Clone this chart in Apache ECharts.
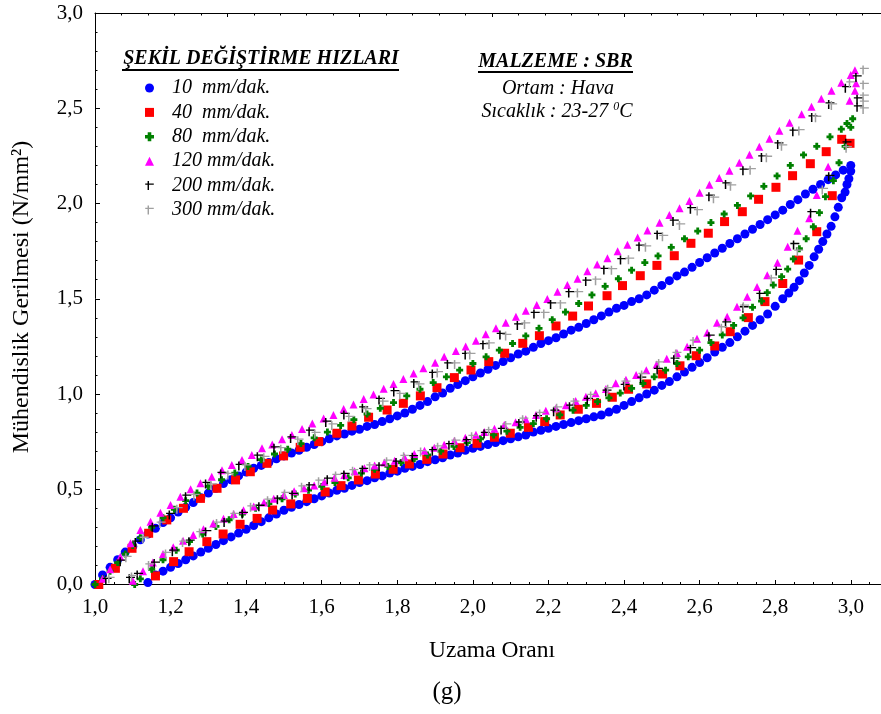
<!DOCTYPE html>
<html>
<head>
<meta charset="utf-8">
<script src="https://cdn.jsdelivr.net/npm/echarts@6/dist/echarts.min.js"></script>
<style>
html, body { margin: 0; padding: 0; background: #ffffff; }
#chart { width: 881px; height: 714px; }
</style>
</head>
<body>
<div id="chart"></div>
<script>
// Deformation-rate names (legend)
const rateNames = ['10  mm/dak.', '40  mm/dak.', '80  mm/dak.', '120 mm/dak.', '200 mm/dak.', '300 mm/dak.'];

// 10 mm/dak. : loading and unloading branches [stretch ratio, stress]
const r10Load = [
  [1.00,0.00],[1.02,0.05],[1.04,0.09],[1.06,0.13],[1.08,0.17],[1.10,0.20],[1.12,0.235],[1.14,0.265],
  [1.16,0.295],[1.18,0.325],[1.20,0.35],[1.22,0.38],[1.24,0.405],[1.26,0.43],[1.28,0.455],[1.30,0.48],
  [1.32,0.505],[1.34,0.53],[1.36,0.55],[1.38,0.57],[1.40,0.59],[1.42,0.61],[1.44,0.625],[1.46,0.64],
  [1.48,0.66],[1.50,0.675],[1.52,0.69],[1.54,0.705],[1.56,0.72],[1.58,0.735],[1.60,0.75],[1.62,0.765],
  [1.64,0.78],[1.66,0.79],[1.68,0.805],[1.70,0.815],[1.72,0.83],[1.74,0.84],[1.76,0.855],[1.78,0.87],
  [1.80,0.885],[1.82,0.90],[1.84,0.92],[1.86,0.94],[1.88,0.96],[1.90,0.985],[1.92,1.005],[1.94,1.03],
  [1.96,1.05],[1.98,1.07],[2.00,1.09],[2.02,1.11],[2.04,1.13],[2.06,1.15],[2.08,1.17],[2.10,1.19],
  [2.12,1.21],[2.14,1.225],[2.16,1.245],[2.18,1.265],[2.20,1.28],[2.22,1.295],[2.24,1.315],[2.26,1.335],
  [2.28,1.35],[2.30,1.37],[2.32,1.39],[2.34,1.41],[2.36,1.43],[2.38,1.45],[2.40,1.465],[2.42,1.485],
  [2.44,1.50],[2.46,1.52],[2.48,1.545],[2.50,1.57],[2.52,1.595],[2.54,1.62],[2.56,1.64],[2.58,1.665],
  [2.60,1.69],[2.62,1.715],[2.64,1.74],[2.66,1.765],[2.68,1.79],[2.70,1.815],[2.72,1.84],[2.74,1.865],
  [2.76,1.89],[2.78,1.915],[2.80,1.94],[2.82,1.965],[2.84,1.995],[2.86,2.02],[2.88,2.05],[2.90,2.075],
  [2.92,2.10],[2.94,2.125],[2.96,2.15],[2.98,2.175],[3.00,2.20]
];
const r10Unload = [
  [3.00,2.17],[2.995,2.13],[2.99,2.10],[2.985,2.06],[2.976,2.03],[2.967,1.98],[2.958,1.93],[2.948,1.88],
  [2.937,1.84],[2.926,1.80],[2.915,1.76],[2.903,1.72],[2.89,1.675],[2.877,1.635],[2.864,1.595],[2.85,1.56],
  [2.836,1.53],[2.82,1.50],[2.80,1.46],[2.78,1.42],[2.76,1.39],[2.74,1.36],[2.72,1.33],[2.70,1.30],
  [2.68,1.27],[2.66,1.245],[2.64,1.22],[2.62,1.19],[2.60,1.165],[2.58,1.14],[2.56,1.115],[2.54,1.09],
  [2.52,1.065],[2.50,1.045],[2.48,1.02],[2.46,1.00],[2.44,0.98],[2.42,0.96],[2.40,0.94],[2.38,0.92],
  [2.36,0.905],[2.34,0.89],[2.32,0.88],[2.30,0.87],[2.28,0.86],[2.26,0.85],[2.24,0.84],[2.22,0.83],
  [2.20,0.82],[2.18,0.81],[2.16,0.80],[2.14,0.785],[2.12,0.775],[2.10,0.765],[2.08,0.755],[2.06,0.745],
  [2.04,0.735],[2.02,0.725],[2.00,0.715],[1.98,0.705],[1.96,0.69],[1.94,0.68],[1.92,0.665],[1.90,0.655],
  [1.88,0.645],[1.86,0.63],[1.84,0.62],[1.82,0.61],[1.80,0.595],[1.78,0.585],[1.76,0.57],[1.74,0.56],
  [1.72,0.545],[1.70,0.535],[1.68,0.52],[1.66,0.505],[1.64,0.495],[1.62,0.48],[1.60,0.465],[1.58,0.45],
  [1.56,0.435],[1.54,0.42],[1.52,0.405],[1.50,0.39],[1.48,0.37],[1.46,0.35],[1.44,0.33],[1.42,0.31],
  [1.40,0.29],[1.38,0.27],[1.36,0.25],[1.34,0.23],[1.32,0.21],[1.30,0.19],[1.28,0.17],[1.26,0.15],
  [1.24,0.13],[1.22,0.11],[1.20,0.09],[1.18,0.07],[1.16,0.05],[1.14,0.01]
];

// 40 mm/dak.
const r40Load = [
  [1.01,0.00],[1.054,0.085],[1.098,0.19],[1.142,0.269],[1.19,0.339],[1.234,0.40],[1.279,0.452],[1.323,0.505],
  [1.372,0.549],[1.411,0.592],[1.455,0.636],[1.499,0.675],[1.543,0.72],[1.592,0.75],[1.64,0.794],[1.68,0.832],
  [1.724,0.878],[1.773,0.916],[1.816,0.951],[1.861,0.99],[1.905,1.033],[1.951,1.086],[1.995,1.126],[2.042,1.17],
  [2.084,1.214],[2.132,1.266],[2.176,1.306],[2.22,1.357],[2.264,1.409],[2.306,1.462],[2.355,1.516],[2.396,1.569],
  [2.443,1.621],[2.487,1.675],[2.533,1.726],[2.577,1.791],[2.623,1.844],[2.666,1.905],[2.713,1.957],[2.756,2.022],
  [2.802,2.085],[2.846,2.146],[2.893,2.209],[2.935,2.272],[2.976,2.337],[2.998,2.316]
];
const r40Unload = [
  [2.951,2.041],[2.91,1.852],[2.862,1.703],[2.82,1.58],[2.773,1.485],[2.729,1.401],[2.681,1.327],[2.64,1.252],
  [2.591,1.201],[2.548,1.148],[2.502,1.105],[2.46,1.053],[2.412,1.025],[2.369,0.983],[2.327,0.951],[2.279,0.92],
  [2.231,0.89],[2.19,0.855],[2.147,0.825],[2.099,0.794],[2.057,0.773],[2.011,0.741],[1.966,0.718],[1.921,0.685],
  [1.878,0.657],[1.832,0.633],[1.789,0.605],[1.742,0.58],[1.697,0.549],[1.651,0.519],[1.609,0.486],[1.562,0.452],
  [1.518,0.423],[1.47,0.391],[1.429,0.347],[1.384,0.316],[1.339,0.265],[1.296,0.225],[1.249,0.172],[1.208,0.12],
  [1.16,0.045]
];

// 80 mm/dak.
const r80Load = [
  [1.00,0.00],[1.02,0.03],[1.04,0.07],[1.06,0.115],[1.08,0.16],[1.10,0.205],[1.12,0.245],[1.15,0.30],
  [1.18,0.35],[1.21,0.395],[1.24,0.44],[1.27,0.48],[1.30,0.515],[1.335,0.55],[1.37,0.585],[1.405,0.62],
  [1.44,0.655],[1.475,0.685],[1.51,0.71],[1.545,0.74],[1.58,0.77],[1.615,0.80],[1.65,0.835],[1.685,0.865],
  [1.72,0.895],[1.755,0.925],[1.79,0.955],[1.825,0.99],[1.86,1.025],[1.895,1.06],[1.93,1.09],[1.965,1.125],
  [2.00,1.16],[2.035,1.195],[2.07,1.23],[2.105,1.265],[2.14,1.305],[2.175,1.345],[2.21,1.39],[2.245,1.43],
  [2.28,1.475],[2.315,1.52],[2.35,1.565],[2.385,1.605],[2.42,1.65],[2.455,1.69],[2.49,1.725],[2.525,1.77],
  [2.56,1.815],[2.595,1.855],[2.63,1.90],[2.665,1.945],[2.70,1.99],[2.735,2.04],[2.77,2.09],[2.805,2.145],
  [2.84,2.20],[2.875,2.255],[2.91,2.30],[2.945,2.35],[2.975,2.39],[2.99,2.42],[3.005,2.445]
];
const r80Unload = [
  [3.00,2.40],[2.985,2.30],[2.969,2.214],[2.954,2.12],[2.933,2.036],[2.917,1.952],[2.901,1.878],[2.882,1.815],
  [2.864,1.763],[2.848,1.709],[2.833,1.656],[2.817,1.616],[2.795,1.572],[2.779,1.532],[2.764,1.488],[2.74,1.455],
  [2.715,1.40],[2.69,1.36],[2.66,1.31],[2.63,1.27],[2.60,1.23],[2.57,1.195],[2.54,1.16],[2.51,1.125],
  [2.48,1.09],[2.45,1.055],[2.42,1.03],[2.39,1.005],[2.36,0.98],[2.33,0.96],[2.30,0.94],[2.265,0.915],
  [2.23,0.89],[2.195,0.87],[2.16,0.845],[2.125,0.825],[2.09,0.805],[2.055,0.785],[2.02,0.765],[1.985,0.745],
  [1.95,0.725],[1.915,0.70],[1.88,0.68],[1.845,0.66],[1.81,0.64],[1.775,0.62],[1.74,0.605],[1.705,0.585],
  [1.67,0.56],[1.635,0.535],[1.60,0.515],[1.565,0.495],[1.53,0.475],[1.495,0.45],[1.46,0.425],[1.425,0.40],
  [1.39,0.37],[1.355,0.34],[1.32,0.305],[1.285,0.265],[1.25,0.225],[1.215,0.18],[1.18,0.13],[1.15,0.08],
  [1.12,0.03],[1.105,0.00]
];

// 120 mm/dak.
const r120Load = [
  [1.02,0.03],[1.04,0.08],[1.067,0.146],[1.094,0.216],[1.12,0.286],[1.147,0.33],[1.173,0.377],[1.20,0.417],
  [1.226,0.461],[1.253,0.50],[1.279,0.531],[1.309,0.566],[1.336,0.60],[1.362,0.627],[1.389,0.654],[1.415,0.68],
  [1.442,0.715],[1.469,0.735],[1.495,0.762],[1.521,0.785],[1.548,0.816],[1.575,0.845],[1.605,0.872],[1.631,0.89],
  [1.658,0.921],[1.684,0.945],[1.711,0.974],[1.737,0.998],[1.764,1.028],[1.79,1.052],[1.816,1.079],[1.843,1.108],
  [1.869,1.135],[1.90,1.164],[1.924,1.196],[1.955,1.226],[1.981,1.25],[2.008,1.28],[2.034,1.313],[2.061,1.345],
  [2.087,1.374],[2.114,1.406],[2.14,1.437],[2.169,1.467],[2.197,1.499],[2.224,1.537],[2.25,1.572],[2.277,1.605],
  [2.303,1.645],[2.329,1.68],[2.356,1.712],[2.383,1.75],[2.409,1.784],[2.436,1.822],[2.462,1.858],[2.494,1.899],
  [2.52,1.94],[2.547,1.975],[2.573,2.013],[2.60,2.057],[2.626,2.098],[2.652,2.134],[2.679,2.172],[2.705,2.214],
  [2.732,2.256],[2.758,2.298],[2.785,2.34],[2.811,2.382],[2.838,2.424],[2.87,2.468],[2.896,2.508],[2.922,2.55],
  [2.949,2.592],[2.975,2.634],[3.00,2.675],[3.011,2.70]
];
const r120Unload = [
  [3.014,2.631],[3.011,2.592],[2.997,2.54],[2.94,2.193],[2.91,2.045],[2.89,1.922],[2.859,1.857],[2.833,1.773],
  [2.806,1.689],[2.779,1.624],[2.752,1.562],[2.726,1.511],[2.699,1.458],[2.673,1.406],[2.646,1.374],[2.62,1.322],
  [2.593,1.29],[2.567,1.248],[2.54,1.215],[2.513,1.185],[2.486,1.155],[2.459,1.125],[2.432,1.10],[2.405,1.075],
  [2.378,1.056],[2.352,1.026],[2.325,1.004],[2.299,0.986],[2.272,0.963],[2.246,0.941],[2.22,0.925],[2.193,0.912],
  [2.167,0.89],[2.14,0.867],[2.113,0.852],[2.083,0.837],[2.057,0.818],[2.03,0.80],[2.008,0.786],[1.98,0.77],
  [1.951,0.755],[1.924,0.734],[1.898,0.718],[1.872,0.702],[1.845,0.685],[1.819,0.668],[1.793,0.65],[1.766,0.64],
  [1.74,0.625],[1.713,0.61],[1.687,0.595],[1.66,0.575],[1.634,0.56],[1.607,0.54],[1.58,0.52],[1.553,0.505],
  [1.527,0.49],[1.50,0.47],[1.473,0.45],[1.447,0.43],[1.42,0.41],[1.393,0.39],[1.367,0.37],[1.34,0.345],
  [1.313,0.32],[1.287,0.29],[1.26,0.26],[1.233,0.23],[1.207,0.195],[1.18,0.16],[1.153,0.115],[1.127,0.07],
  [1.10,0.02]
];

// 200 mm/dak.
const r200Load = [
  [1.032,0.024],[1.07,0.12],[1.11,0.22],[1.155,0.30],[1.20,0.365],[1.243,0.461],[1.296,0.528],[1.336,0.58],
  [1.384,0.622],[1.433,0.671],[1.477,0.715],[1.521,0.767],[1.57,0.802],[1.614,0.85],[1.662,0.89],[1.711,0.925],
  [1.755,0.969],[1.794,1.01],[1.847,1.055],[1.896,1.105],[1.936,1.155],[1.983,1.205],[2.03,1.257],[2.075,1.31],
  [2.121,1.36],[2.165,1.42],[2.209,1.47],[2.257,1.53],[2.302,1.59],[2.35,1.651],[2.394,1.703],[2.443,1.773],
  [2.491,1.835],[2.533,1.905],[2.579,1.97],[2.628,2.036],[2.672,2.10],[2.718,2.172],[2.767,2.242],[2.81,2.31],
  [2.85,2.377],[2.90,2.452],[2.945,2.52],[2.989,2.605],[3.017,2.662],[3.02,2.547],[3.02,2.505]
];
const r200Unload = [
  [2.99,2.316],[2.945,2.14],[2.897,1.949],[2.852,1.782],[2.806,1.646],[2.762,1.52],[2.718,1.45],[2.672,1.371],
  [2.628,1.301],[2.579,1.235],[2.535,1.18],[2.491,1.126],[2.447,1.08],[2.403,1.042],[2.355,1.012],[2.306,0.969],
  [2.259,0.933],[2.217,0.907],[2.171,0.878],[2.125,0.845],[2.078,0.811],[2.033,0.79],[1.986,0.753],[1.94,0.731],
  [1.896,0.70],[1.843,0.668],[1.80,0.64],[1.755,0.618],[1.711,0.601],[1.662,0.575],[1.618,0.55],[1.57,0.515],
  [1.525,0.47],[1.486,0.445],[1.437,0.408],[1.393,0.37],[1.345,0.325],[1.296,0.275],[1.252,0.225],[1.208,0.172],
  [1.16,0.11],[1.115,0.05],[1.094,0.03]
];

// 300 mm/dak.
const r300Load = [
  [1.04,0.03],[1.085,0.14],[1.13,0.24],[1.175,0.32],[1.22,0.395],[1.265,0.465],[1.31,0.52],[1.355,0.575],
  [1.40,0.62],[1.45,0.665],[1.495,0.71],[1.54,0.755],[1.585,0.79],[1.63,0.835],[1.675,0.875],[1.72,0.915],
  [1.765,0.955],[1.81,0.995],[1.86,1.045],[1.909,1.11],[1.955,1.155],[1.995,1.205],[2.046,1.26],[2.09,1.305],
  [2.14,1.365],[2.191,1.42],[2.235,1.47],[2.28,1.53],[2.328,1.595],[2.37,1.65],[2.415,1.705],[2.46,1.77],
  [2.505,1.825],[2.55,1.885],[2.597,1.96],[2.64,2.025],[2.685,2.09],[2.737,2.175],[2.78,2.24],[2.82,2.30],
  [2.866,2.38],[2.91,2.45],[2.952,2.515],[3.00,2.631],[3.036,2.701],[3.036,2.622],[3.036,2.561],[3.036,2.529],
  [3.036,2.494]
];
const r300Unload = [
  [2.991,2.29],[2.928,2.071],[2.862,1.747],[2.793,1.602],[2.719,1.458],[2.661,1.345],[2.586,1.275],[2.54,1.21],
  [2.495,1.16],[2.45,1.10],[2.405,1.06],[2.36,1.025],[2.315,0.99],[2.27,0.955],[2.225,0.925],[2.18,0.895],
  [2.135,0.865],[2.09,0.835],[2.045,0.805],[2.00,0.775],[1.955,0.75],[1.91,0.72],[1.865,0.695],[1.82,0.67],
  [1.775,0.645],[1.73,0.62],[1.685,0.595],[1.64,0.57],[1.595,0.54],[1.55,0.51],[1.505,0.475],[1.46,0.44],
  [1.415,0.405],[1.37,0.365],[1.325,0.32],[1.28,0.27],[1.235,0.22],[1.19,0.16],[1.145,0.10],[1.10,0.04]
];

const serif = '"Liberation Serif", "Times New Roman", serif';
const comma = v => v.toFixed(1).replace('.', ',');

// Marker shapes
const plusMark = 'path://M3,0h4v3h3v4h-3v3h-4v-3h-3v-4h3z';
const crossMark = 'path://M2.6,0h1.6v10h-1.6z M0,2.6h9.5v1.4h-9.5z';

const seriesStyle = [
  { load: r10Load,  unload: r10Unload,  symbol: 'circle',   size: 9, color: '#0000ff' },
  { load: r40Load,  unload: r40Unload,  symbol: 'rect',     size: 9, color: '#ff0000' },
  { load: r80Load,  unload: r80Unload,  symbol: plusMark,   size: 7, color: '#008000' },
  { load: r120Load, unload: r120Unload, symbol: 'triangle', size: 8, color: '#ff00ff' },
  { load: r200Load, unload: r200Unload, symbol: crossMark,  size: 9, color: '#000000' },
  { load: r300Load, unload: r300Unload, symbol: crossMark,  size: 9, color: '#a0a0a0' }
];

const series = seriesStyle.map((s, i) => ({
  name: rateNames[i],
  type: 'scatter',
  xAxisIndex: 0,
  yAxisIndex: 0,
  data: s.load.concat(s.unload),
  symbol: s.symbol,
  symbolSize: s.size,
  itemStyle: { color: s.color, opacity: 1 },
  silent: true,
  z: 2 + i
}));

const axisCommon = {
  type: 'value',
  axisLine: { show: true, onZero: false, lineStyle: { color: '#000', width: 1 } },
  splitLine: { show: false },
  axisTick: { show: true, inside: true, length: 4.5, lineStyle: { color: '#000', width: 1 } },
  minorTick: { show: true, length: 2.5, lineStyle: { color: '#000', width: 1 } }
};

const chart = echarts.init(document.getElementById('chart'), null, { renderer: 'canvas' });
chart.setOption({
  animation: false,
  backgroundColor: '#ffffff',
  grid: { left: 95, right: 0, top: 13, bottom: 129.5, containLabel: false },
  xAxis: [
    Object.assign({}, axisCommon, {
      position: 'bottom', min: 1, max: 3.08, interval: 0.2,
      minorTick: Object.assign({}, axisCommon.minorTick, { splitNumber: 4 }),
      axisLabel: {
        margin: 12, color: '#000', fontFamily: serif, fontSize: 21,
        formatter: v => (Math.abs(v * 5 - Math.round(v * 5)) < 1e-6 ? comma(v) : ''),
        showMaxLabel: false
      }
    }),
    // unlabeled frame scale along the top edge
    Object.assign({}, axisCommon, {
      position: 'top', min: 0, max: 29.7, interval: 5,
      axisTick: Object.assign({}, axisCommon.axisTick, { length: 4 }),
      minorTick: Object.assign({}, axisCommon.minorTick, { splitNumber: 5, length: 2.5 }),
      axisLabel: { show: false }
    })
  ],
  yAxis: Object.assign({}, axisCommon, {
    min: 0, max: 3, interval: 0.5,
    axisTick: Object.assign({}, axisCommon.axisTick, { length: 5 }),
    minorTick: Object.assign({}, axisCommon.minorTick, { splitNumber: 5 }),
    axisLabel: { margin: 12, color: '#000', fontFamily: serif, fontSize: 21, formatter: v => comma(v) }
  }),
  legend: {
    orient: 'vertical', left: 140, top: 73,
    itemWidth: 9, itemHeight: 9, itemGap: 4.4,
    selectedMode: false,
    textStyle: { fontFamily: serif, fontStyle: 'italic', fontSize: 20, color: '#000', padding: [0, 0, 0, 13] },
    data: rateNames
  },
  graphic: [
    { type: 'text', x: 261, y: 59, silent: true,
      style: { text: 'ŞEKİL DEĞİŞTİRME HIZLARI', fill: '#000', align: 'center', verticalAlign: 'middle',
               font: 'italic bold 20px ' + serif } },
    { type: 'line', silent: true, shape: { x1: 122, y1: 70, x2: 399, y2: 70 }, style: { stroke: '#000', lineWidth: 2 } },
    { type: 'text', x: 555.5, y: 62, silent: true,
      style: { text: 'MALZEME : SBR', fill: '#000', align: 'center', verticalAlign: 'middle',
               font: 'italic bold 20px ' + serif } },
    { type: 'line', silent: true, shape: { x1: 478, y1: 72, x2: 633, y2: 72 }, style: { stroke: '#000', lineWidth: 2 } },
    { type: 'text', x: 558, y: 89, silent: true,
      style: { text: 'Ortam : Hava', fill: '#000', align: 'center', verticalAlign: 'middle',
               font: 'italic 20px ' + serif } },
    { type: 'text', x: 557, y: 112, silent: true,
      style: { text: '{a|Sıcaklık : 23-27 }{s|0}{a|C}', align: 'center', verticalAlign: 'middle',
               rich: {
                 a: { fontFamily: serif, fontStyle: 'italic', fontSize: 20, fill: '#000', lineHeight: 22 },
                 s: { fontFamily: serif, fontStyle: 'italic', fontSize: 12, fill: '#000', verticalAlign: 'top', lineHeight: 22 }
               } } },
    { type: 'text', x: 22, y: 297, rotation: Math.PI / 2, silent: true,
      style: { text: 'Mühendislik Gerilmesi (N/mm²)', fill: '#000', align: 'center', verticalAlign: 'middle',
               font: '24px ' + serif } },
    { type: 'text', x: 492, y: 651, silent: true,
      style: { text: 'Uzama Oranı', fill: '#000', align: 'center', verticalAlign: 'middle', font: '23.5px ' + serif } },
    { type: 'text', x: 447, y: 692, silent: true,
      style: { text: '(g)', fill: '#000', align: 'center', verticalAlign: 'middle', font: '25px ' + serif } }
  ],
  series: series
});
</script>
</body>
</html>
